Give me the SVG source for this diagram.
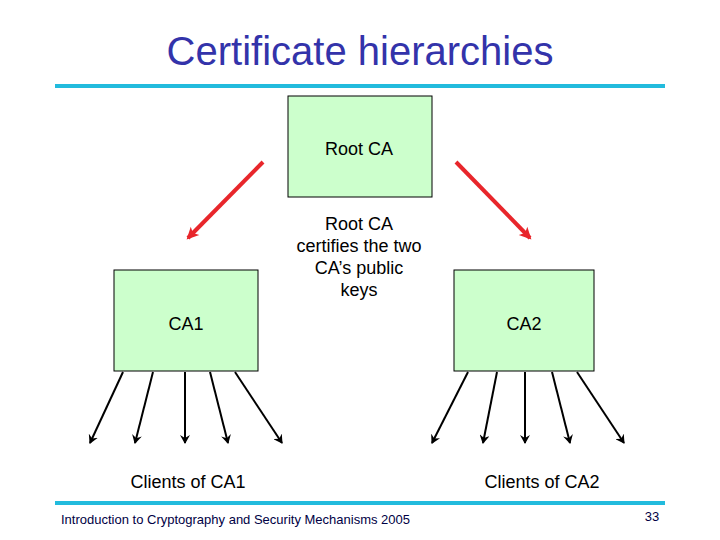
<svg xmlns="http://www.w3.org/2000/svg" width="720" height="540" viewBox="0 0 720 540">
<style>
text{font-family:"Liberation Sans",Arial,sans-serif}
.box{fill:#ccffcc;stroke:#000;stroke-width:1}
.lbl{font-size:18px;fill:#000;text-anchor:middle}
.blk{stroke:#000;stroke-width:2;marker-end:url(#ab)}
.red{stroke:#e8262b;stroke-width:4;marker-end:url(#ar)}
</style>
<defs>
<marker id="ab" markerWidth="10" markerHeight="10" refX="8" refY="5" orient="auto" markerUnits="userSpaceOnUse"><path d="M0,0 L9,5 L0,10 L3,5 z" fill="#000"/></marker>
<marker id="ar" markerWidth="14" markerHeight="14" refX="10" refY="7" orient="auto" markerUnits="userSpaceOnUse"><path d="M0,1 L12,7 L0,13 L3,7 z" fill="#e8262b"/></marker>
</defs>
<rect width="720" height="540" fill="#fff"/>
<text x="360" y="65" font-size="40" fill="#3333aa" text-anchor="middle">Certificate hierarchies</text>
<line x1="55" y1="86" x2="665" y2="86" stroke="#22bbdd" stroke-width="4"/>
<g id="root"><rect class="box" x="288" y="96" width="144" height="101"/><text class="lbl" x="359" y="155">Root CA</text></g>
<g id="note"><text class="lbl" font-size="17"><tspan x="359" y="230">Root CA</tspan><tspan x="359" y="252">certifies the two</tspan><tspan x="359" y="274">CA’s public</tspan><tspan x="359" y="296">keys</tspan></text></g>
<g id="ca1"><rect class="box" x="114" y="270" width="144" height="101"/><text class="lbl" x="186" y="330">CA1</text></g>
<g id="ca2"><rect class="box" x="454" y="270" width="140" height="101"/><text class="lbl" x="524" y="330">CA2</text></g>
<g id="clients1"><text class="lbl" font-size="17" x="188" y="488">Clients of CA1</text></g>
<g id="clients2"><text class="lbl" font-size="17" x="542" y="488">Clients of CA2</text></g>
<g id="connectors">
<line class="red" x1="263" y1="162" x2="188" y2="238"/>
<line class="red" x1="456" y1="162" x2="530" y2="238"/>
<line class="blk" x1="123" y1="372" x2="90" y2="443"/>
<line class="blk" x1="153" y1="372" x2="135" y2="443"/>
<line class="blk" x1="185" y1="372" x2="185" y2="443"/>
<line class="blk" x1="210" y1="372" x2="228" y2="443"/>
<line class="blk" x1="235" y1="372" x2="282" y2="443"/>
<line class="blk" x1="468" y1="372" x2="432" y2="443"/>
<line class="blk" x1="497" y1="372" x2="483" y2="443"/>
<line class="blk" x1="525" y1="372" x2="525" y2="443"/>
<line class="blk" x1="552" y1="372" x2="570" y2="443"/>
<line class="blk" x1="577" y1="372" x2="624" y2="443"/>
</g>
<line x1="55" y1="503" x2="665" y2="503" stroke="#22bbdd" stroke-width="4"/>
<text x="61" y="524" font-size="13" fill="#000044">Introduction to Cryptography and Security Mechanisms 2005</text>
<text x="652" y="521" font-size="13" fill="#000044" text-anchor="middle">33</text>
</svg>
